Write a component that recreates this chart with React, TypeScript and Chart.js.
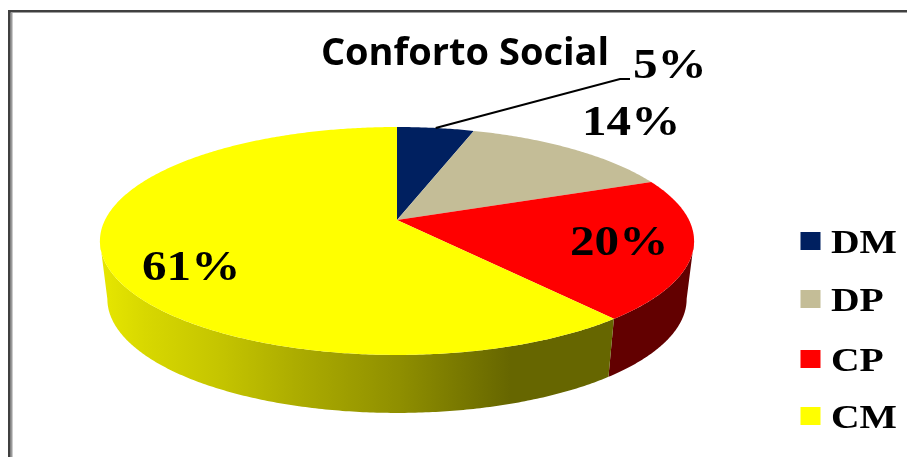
import React, { useEffect, useRef } from "react";
import { Chart, registerables } from "chart.js";

Chart.register(...registerables);

const categories = ["DM", "DP", "CP", "CM"];
const values = [5, 14, 20, 61];
const sliceColors = ["#002060", "#c4bd97", "#ff0000", "#ffff00"];
const chartTitle = "Conforto Social";

// label anchors: left x and baseline y of each percentage
const labelAnchors = [[633, 78], [582, 135], [570, 255], [142, 280]];
const legendBaselines = [253, 311, 371, 428];

// perspective projection of the pie disc onto the page
const view = { x0: 397, y0: 220, a: 292, b: 110.1, p: 0.184, depth: 58, bottomScale: 0.975 };

function project(angle: number, lower = false) {
  const u = Math.cos(angle);
  const v = Math.sin(angle);
  const d = 1 - view.p * v;
  const s = lower ? view.bottomScale : 1;
  return {
    x: view.x0 + (s * view.a * u) / d,
    y: view.y0 + (view.b * v) / d + (lower ? view.depth : 0),
  };
}

function traceArc(ctx: CanvasRenderingContext2D, from: number, to: number, lower = false) {
  const steps = Math.max(2, Math.ceil(Math.abs(to - from) / 0.01));
  for (let i = 0; i <= steps; i++) {
    const p = project(from + ((to - from) * i) / steps, lower);
    ctx.lineTo(p.x, p.y);
  }
}

const WALL_START = 0.185;
const WALL_END = Math.PI - 0.185;

function drawWall(ctx: CanvasRenderingContext2D, from: number, to: number, fill: any) {
  ctx.beginPath();
  traceArc(ctx, from, to);
  traceArc(ctx, to, from, true);
  ctx.closePath();
  ctx.fillStyle = fill;
  ctx.fill();
}

function stretchedText(ctx: CanvasRenderingContext2D, text: string, x: number, y: number, font: string, sx: number) {
  ctx.save();
  ctx.translate(x, y);
  ctx.scale(sx, 1);
  ctx.font = font;
  ctx.fillStyle = "#000";
  ctx.textAlign = "left";
  ctx.textBaseline = "alphabetic";
  ctx.fillText(text, 0, 0);
  ctx.restore();
}

const piePlugin = {
  id: "perspectivePie",
  beforeDraw(chart: any) {
    const ctx: CanvasRenderingContext2D = chart.ctx;
    ctx.save();
    ctx.fillStyle = "#fff";
    ctx.fillRect(0, 0, chart.width, chart.height);
    ctx.fillStyle = "#404040";
    ctx.fillRect(8, 10, chart.width - 8, 2.5);
    ctx.fillRect(8, 10, 2.7, chart.height - 10);
    ctx.fillStyle = "#9a9a9a";
    ctx.fillRect(10.7, 12.5, 1.8, chart.height - 12);
    ctx.restore();
  },
  beforeDatasetsDraw(chart: any) {
    const ctx: CanvasRenderingContext2D = chart.ctx;
    const arcs = chart.getDatasetMeta(0).data;
    ctx.save();

    // side wall of the near half
    const grad = ctx.createLinearGradient(103, 0, 613, 0);
    grad.addColorStop(0, "#e6e600");
    grad.addColorStop(0.08, "#d8d800");
    grad.addColorStop(0.22, "#c6c600");
    grad.addColorStop(0.38, "#acac00");
    grad.addColorStop(0.58, "#8f8f00");
    grad.addColorStop(0.8, "#666600");
    grad.addColorStop(1, "#666600");
    const split = arcs[2].endAngle;
    drawWall(ctx, WALL_START, split, "#620000");
    drawWall(ctx, split, WALL_END, grad);

    // top faces
    arcs.forEach((arc: any, i: number) => {
      ctx.beginPath();
      ctx.moveTo(view.x0, view.y0);
      traceArc(ctx, arc.startAngle, arc.endAngle);
      ctx.closePath();
      ctx.fillStyle = sliceColors[i];
      ctx.fill();
    });

    // leader line of the smallest slice
    const first = arcs[0];
    const rim = project((first.startAngle + first.endAngle) / 2);
    ctx.beginPath();
    ctx.moveTo(rim.x, rim.y);
    ctx.lineTo(labelAnchors[0][0] - 13, labelAnchors[0][1] + 1);
    ctx.lineTo(labelAnchors[0][0] - 3, labelAnchors[0][1] + 1);
    ctx.strokeStyle = "#000";
    ctx.lineWidth = 2;
    ctx.stroke();

    // percentage labels
    values.forEach((v, i) => {
      stretchedText(ctx, `${v}%`, labelAnchors[i][0], labelAnchors[i][1], "bold 42px 'Liberation Serif'", 1.17);
    });

    // legend
    categories.forEach((c, i) => {
      ctx.fillStyle = sliceColors[i];
      ctx.fillRect(800.5, legendBaselines[i] - 21, 20, 18);
      stretchedText(ctx, c, 831, legendBaselines[i], "bold 33px 'Liberation Serif'", 1.2);
    });

    ctx.restore();
    return false;
  },
};

export default function App() {
  const ref = useRef<HTMLCanvasElement>(null);
  useEffect(() => {
    const chart = new Chart(ref.current!, {
      type: "pie",
      data: {
        labels: categories,
        datasets: [{ data: values, backgroundColor: sliceColors, borderWidth: 0 }],
      },
      options: {
        animation: false,
        responsive: false,
        layout: { padding: { left: 33, right: 10 } },
        plugins: {
          legend: { display: false },
          tooltip: { enabled: false },
          title: {
            display: true,
            text: chartTitle,
            color: "#000",
            font: { family: "'Open Sans'", weight: "bold", size: 38 },
            padding: { top: 31, bottom: 4 },
          },
        },
      },
      plugins: [piePlugin],
    } as any);
    return () => chart.destroy();
  }, []);
  return (
    <div style={{ position: "absolute", left: 0, top: 0, width: 907, height: 457 }}>
      <canvas ref={ref} width={907} height={457} style={{ display: "block" }} />
    </div>
  );
}
